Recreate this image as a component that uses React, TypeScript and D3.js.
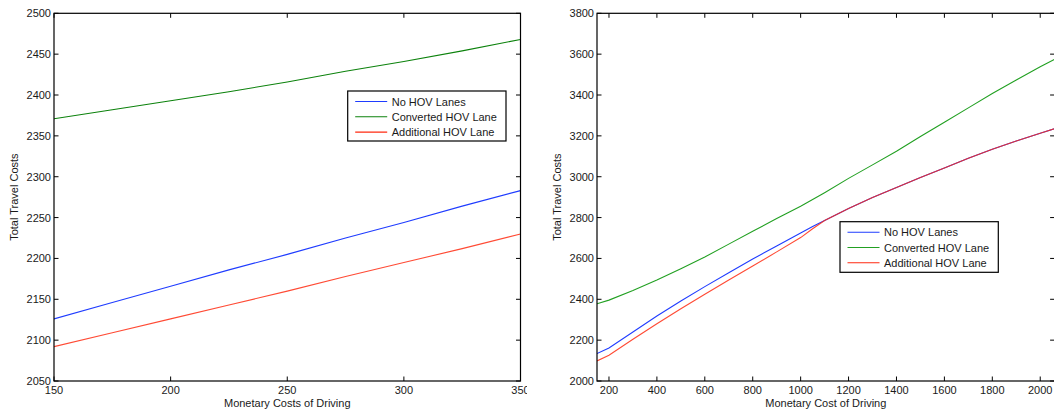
import React from "react";
import * as d3 from "d3";

// ---------- Data ----------
const seriesNames = ["No HOV Lanes", "Converted HOV Lane", "Additional HOV Lane"];

const leftX = [150, 175, 200, 225, 250, 275, 300, 325, 350];
const leftNoHov = [2126, 2146, 2166, 2186, 2205, 2225, 2244, 2264, 2283];
const leftConverted = [2371, 2382, 2393, 2404, 2416, 2429, 2441, 2454, 2468];
const leftAdditional = [2092, 2109, 2126, 2143, 2160, 2178, 2195, 2212, 2230];

const rightX = [150, 200, 300, 400, 500, 600, 700, 800, 900, 1000, 1050, 1100, 1200, 1300, 1400, 1500, 1600, 1700, 1800, 1900, 2000, 2060];
const rightNoHov = [2134, 2162, 2240, 2318, 2392, 2462, 2530, 2597, 2661, 2724, 2756, 2786, 2845, 2898, 2947, 2996, 3043, 3090, 3135, 3175, 3213, 3235];
const rightConverted = [2378, 2396, 2443, 2494, 2550, 2607, 2670, 2733, 2795, 2855, 2888, 2922, 2992, 3058, 3125, 3197, 3267, 3337, 3407, 3473, 3538, 3575];
const rightAdditional = [2098, 2126, 2204, 2280, 2354, 2425, 2494, 2563, 2632, 2702, 2745, 2786, 2845, 2898, 2947, 2996, 3043, 3090, 3135, 3175, 3213, 3235];

const leftXTicks = [150, 200, 250, 300, 350];
const leftYTicks = [2050, 2100, 2150, 2200, 2250, 2300, 2350, 2400, 2450, 2500];
const rightXTicks = [200, 400, 600, 800, 1000, 1200, 1400, 1600, 1800, 2000];
const rightYTicks = [2000, 2200, 2400, 2600, 2800, 3000, 3200, 3400, 3600, 3800];

const leftXTitle = "Monetary Costs of Driving";
const rightXTitle = "Monetary Cost of Driving";
const yTitle = "Total Travel Costs";

// ---------- Styles ----------
const FONT = "'Liberation Sans', Arial, Helvetica, sans-serif";
const TXT = "#1a1a1a";
const COLORS = ["#1f3cff", "#0c820c", "#ff2a10"];
const COLORS_R = ["#1f3cff", "#22a022", "#ff2a10"];

type PanelProps = {
  id: string;
  xs: number[];
  series: number[][];
  colors: string[];
  xDomain: [number, number];
  yDomain: [number, number];
  xRange: [number, number];
  yRange: [number, number];
  xTicks: number[];
  yTicks: number[];
  xTitle: string;
  yTitleX: number;
  legend: { x: number; y: number; w: number; h: number };
  clipRight: number;
};

function Panel(p: PanelProps) {
  const x = d3.scaleLinear().domain(p.xDomain).range(p.xRange);
  const y = d3.scaleLinear().domain(p.yDomain).range(p.yRange);
  const [x0, x1] = p.xRange;
  const [y1, y0] = p.yRange; // y1 bottom, y0 top
  const tl = 4.5;
  const line = d3
    .line<number>()
    .x((_, i) => x(p.xs[i]))
    .y((d) => y(d));
  const cx = (x0 + x1) / 2;
  const cy = (y0 + y1) / 2;
  const L = p.legend;
  return (
    <g clipPath={`url(#outer${p.id})`}>
      <defs>
        <clipPath id={`clip${p.id}`}>
          <rect x={x0} y={y0} width={x1 - x0} height={y1 - y0} />
        </clipPath>
        <clipPath id={`outer${p.id}`}>
          <rect x={0} y={0} width={p.clipRight} height={411} />
        </clipPath>
      </defs>
      <g clipPath={`url(#clip${p.id})`}>
        {p.series.map((s, i) => (
          <path
            key={i}
            d={line(s) || ""}
            fill="none"
            stroke={p.colors[i]}
            strokeWidth={1.1}
            strokeOpacity={i === 2 ? 0.85 : 1}
          />
        ))}
      </g>
      {p.xTicks.map((t) => (
        <g key={"xt" + t}>
          <line x1={x(t)} x2={x(t)} y1={y1} y2={y1 - tl} stroke="#000" strokeWidth={1} />
          <line x1={x(t)} x2={x(t)} y1={y0} y2={y0 + tl} stroke="#000" strokeWidth={1} />
          <text x={x(t)} y={y1 + 13} textAnchor="middle" fontSize={11} fontFamily={FONT} fill={TXT}>
            {t}
          </text>
        </g>
      ))}
      {p.yTicks.map((t) => (
        <g key={"yt" + t}>
          <line x1={x0} x2={x0 + tl} y1={y(t)} y2={y(t)} stroke="#000" strokeWidth={1} />
          <line x1={x1} x2={x1 - tl} y1={y(t)} y2={y(t)} stroke="#000" strokeWidth={1} />
          <text x={x0 - 3} y={y(t) + 4} textAnchor="end" fontSize={11} fontFamily={FONT} fill={TXT}>
            {t}
          </text>
        </g>
      ))}
      <rect x={x0} y={y0} width={x1 - x0} height={y1 - y0} fill="none" stroke="#000" strokeWidth={1.2} />
      <text x={cx} y={407} textAnchor="middle" fontSize={11} fontFamily={FONT} fill={TXT}>
        {p.xTitle}
      </text>
      <text
        transform={`translate(${p.yTitleX},${cy}) rotate(-90)`}
        textAnchor="middle"
        fontSize={11}
        fontFamily={FONT}
        fill={TXT}
      >
        {yTitle}
      </text>
      <rect x={L.x} y={L.y} width={L.w} height={L.h} fill="#fff" stroke="#000" strokeWidth={1.2} />
      {seriesNames.map((n, i) => {
        const ry = L.y + 10.5 + i * 15.3;
        return (
          <g key={n}>
            <line x1={L.x + 7.5} x2={L.x + 39.5} y1={ry} y2={ry} stroke={p.colors[i]} strokeWidth={1.1} />
            <text x={L.x + 44} y={ry + 4} fontSize={11} fontFamily={FONT} fill={TXT}>
              {n}
            </text>
          </g>
        );
      })}
    </g>
  );
}

export default function App() {
  return (
    <svg
      width={1054}
      height={411}
      style={{ position: "absolute", left: 0, top: 0, background: "#fff" }}
    >
      <rect x={0} y={0} width={1054} height={411} fill="#fff" />
      <Panel
        id="L"
        xs={leftX}
        series={[leftNoHov, leftConverted, leftAdditional]}
        colors={COLORS}
        xDomain={[150, 350]}
        yDomain={[2050, 2500]}
        xRange={[54, 520.5]}
        yRange={[381, 13.3]}
        xTicks={leftXTicks}
        yTicks={leftYTicks}
        xTitle={leftXTitle}
        yTitleX={18}
        legend={{ x: 347.7, y: 91, w: 158.3, h: 50 }}
        clipRight={527}
      />
      <Panel
        id="R"
        xs={rightX}
        series={[rightNoHov, rightConverted, rightAdditional]}
        colors={COLORS_R}
        xDomain={[150, 2060]}
        yDomain={[2000, 3800]}
        xRange={[597, 1054.6]}
        yRange={[381, 13.3]}
        xTicks={rightXTicks}
        yTicks={rightYTicks}
        xTitle={rightXTitle}
        yTitleX={561}
        legend={{ x: 840, y: 221.7, w: 158.3, h: 50.6 }}
        clipRight={1054}
      />
    </svg>
  );
}
